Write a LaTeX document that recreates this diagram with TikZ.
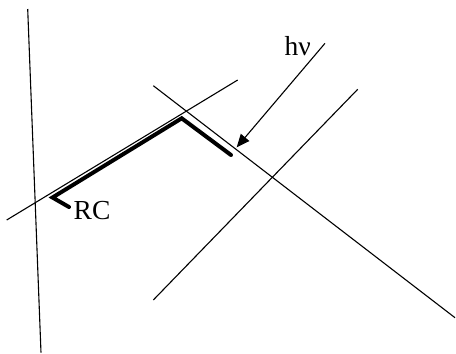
\documentclass[tikz,border=0pt]{standalone}
\usepackage{fontspec}
\setmainfont{Liberation Serif}
\usetikzlibrary{arrows.meta}
\begin{document}
\begin{tikzpicture}[x=1pt,y=-1pt,
  thinline/.style={line width=1.1pt},
  thickline/.style={line width=4pt,line cap=round,line join=miter},
  lbl/.style={font=\fontsize{27.5}{27.5}\selectfont,inner sep=0pt}]
\useasboundingbox (0,0) rectangle (456,354);
% lines
\coordinate (v1) at (27.7,9);
\coordinate (v2) at (41,352.7);
\coordinate (a1) at (6.7,220);
\coordinate (a2) at (237.7,80);
\coordinate (b1) at (153.3,85.7);
\coordinate (b2) at (455,317.7);
\coordinate (c1) at (153.3,300);
\coordinate (c2) at (357.7,89.3);
\draw[thinline] (v1) -- (v2);
\draw[thinline] (a1) -- (a2);
\draw[thinline] (b1) -- (b2);
\draw[thinline] (c1) -- (c2);
% thick path
\coordinate (t0) at (69,207);
\coordinate (t1) at (52.5,197.5);
\coordinate (t2) at (181.7,118.3);
\coordinate (t3) at (231,155);
\draw[thickline] (t0) -- (t1) -- (t2) -- (t3);
% arrow
\coordinate (h1) at (325,43.3);
\coordinate (h2) at (236.7,147.3);
\draw[thinline,-{Triangle[length=13pt,width=11pt]}] (h1) -- (h2);
% labels
\node[lbl,anchor=base west] (hnu) at (284.5,55) {hν};
\node[lbl,anchor=base west] (rc) at (73.5,219.5) {RC};
\end{tikzpicture}
\end{document}
